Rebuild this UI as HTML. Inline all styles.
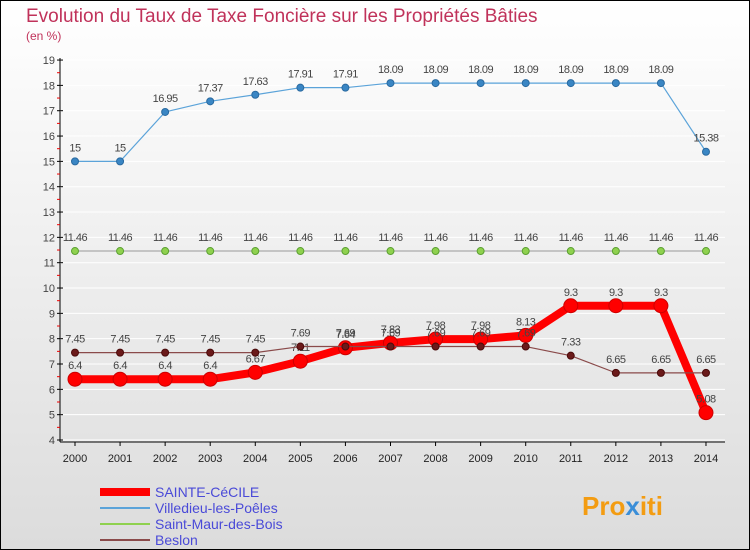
<!DOCTYPE html>
<html><head><meta charset="utf-8"><style>
body{margin:0;width:750px;height:550px;overflow:hidden;font-family:"Liberation Sans",sans-serif}
#c{position:absolute;left:0;top:0;width:748px;height:548px;border:1px solid #000;background:linear-gradient(#fff,#dcdcdc)}
</style></head><body>
<div id="c">
<svg id="s" width="750" height="550" style="position:absolute;left:-1px;top:-1px">
<text x="26" y="22" font-size="19" fill="#c0325a">Evolution du Taux de Taxe Foncière sur les Propriétés Bâties</text>
<text x="26" y="40" font-size="12" fill="#c0325a">(en %)</text>
<g id="axes"></g><g id="series"></g><g id="legend"></g>
<text x="582" y="515" font-size="26" font-weight="bold" fill="#f39c12">Pro<tspan fill="#3a8ed8">x</tspan>iti</text>
</svg></div>
<script>
const years=[2000,2001,2002,2003,2004,2005,2006,2007,2008,2009,2010,2011,2012,2013,2014];
const yTicks=[4,5,6,7,8,9,10,11,12,13,14,15,16,17,18,19];
const names=["SAINTE-CéCILE","Villedieu-les-Poêles","Saint-Maur-des-Bois","Beslon"];
const sainte=[6.4,6.4,6.4,6.4,6.67,7.11,7.64,7.83,7.98,7.98,8.13,9.3,9.3,9.3,5.08];
const villedieu=[15,15,16.95,17.37,17.63,17.91,17.91,18.09,18.09,18.09,18.09,18.09,18.09,18.09,15.38];
const saintmaur=[11.46,11.46,11.46,11.46,11.46,11.46,11.46,11.46,11.46,11.46,11.46,11.46,11.46,11.46,11.46];
const beslon=[7.45,7.45,7.45,7.45,7.45,7.69,7.69,7.69,7.69,7.69,7.69,7.33,6.65,6.65,6.65];
const NS="http://www.w3.org/2000/svg";
const X=i=>75+i*45.07, Y=v=>440-(v-4)*25.33;
function mk(t,a,p){const e=document.createElementNS(NS,t);for(const k in a)e.setAttribute(k,a[k]);p.appendChild(e);return e;}
const ax=document.getElementById('axes');
const yl=mk('line',{x1:60,y1:58,x2:60,y2:442,stroke:'#000'},ax);


const xl=mk('line',{x1:60,y1:442,x2:725,y2:442,stroke:'#000'},ax);


yTicks.forEach(v=>{
  const g=mk('line',{x1:60,x2:725,y1:Y(v),y2:Y(v),stroke:'#fff','stroke-width':1},ax);
  mk('line',{x1:57,x2:63,y1:Y(v),y2:Y(v),stroke:'#000'},ax);
  if(v<19)mk('line',{x1:57,x2:60,y1:Y(v+0.5),y2:Y(v+0.5),stroke:'#e00'},ax);
  const t=mk('text',{x:55,y:Y(v)+4,'font-size':11,fill:'#444','text-anchor':'end'},ax);t.textContent=v;
  
  
});
years.forEach((yr,i)=>{
  mk('line',{x1:X(i),x2:X(i),y1:442,y2:446,stroke:'#000'},ax);
  const t=mk('text',{x:X(i),y:462,'font-size':11,fill:'#222','text-anchor':'middle'},ax);t.textContent=yr;
  
  
});
const sg=document.getElementById('series');
function series(d,col,w,r,dot,stroke,nm){
  const g=mk('g',{},sg);
  
  
  mk('polyline',{points:d.map((v,i)=>X(i)+','+Y(v)).join(' '),fill:'none',stroke:col,'stroke-width':w,'stroke-linejoin':'round'},g);
  d.forEach((v,i)=>{
    const c=mk('circle',{cx:X(i),cy:Y(v),r:r,fill:dot,stroke:stroke,'stroke-width':1},g);
    
    
    const t=mk('text',{x:X(i),y:Y(v)-10,'font-size':11,fill:'#444','text-anchor':'middle','letter-spacing':'-0.5'},g);t.textContent=v;
  });
}
series(villedieu,'#5ba3d9',1.2,3.5,'#3a86c4','#2a6aa0','villedieu-series');
series(saintmaur,'#999',1,3.5,'#8fd14f','#5aa030','saint-maur-series');
series(sainte,'#f00',8,7,'#f00','#c00','sainte-cecile-series');
series(beslon,'#8a4a4a',1.2,3.5,'#6b1a1a','#4a0a0a','beslon-series');
const lg=document.getElementById('legend');
const cols=[['#f00',8],['#5ba3d9',2],['#8fd14f',2],['#8a4a4a',2]];
names.forEach((n,i)=>{
  const y=492+i*16;
  const g=mk('g',{},lg);
  
  
  mk('line',{x1:100,x2:150,y1:y,y2:y,stroke:cols[i][0],'stroke-width':cols[i][1]},g);
  const t=mk('text',{x:155,y:y+5,'font-size':14,fill:'#4a4ad8'},g);t.textContent=n;
});
</script></body></html>
